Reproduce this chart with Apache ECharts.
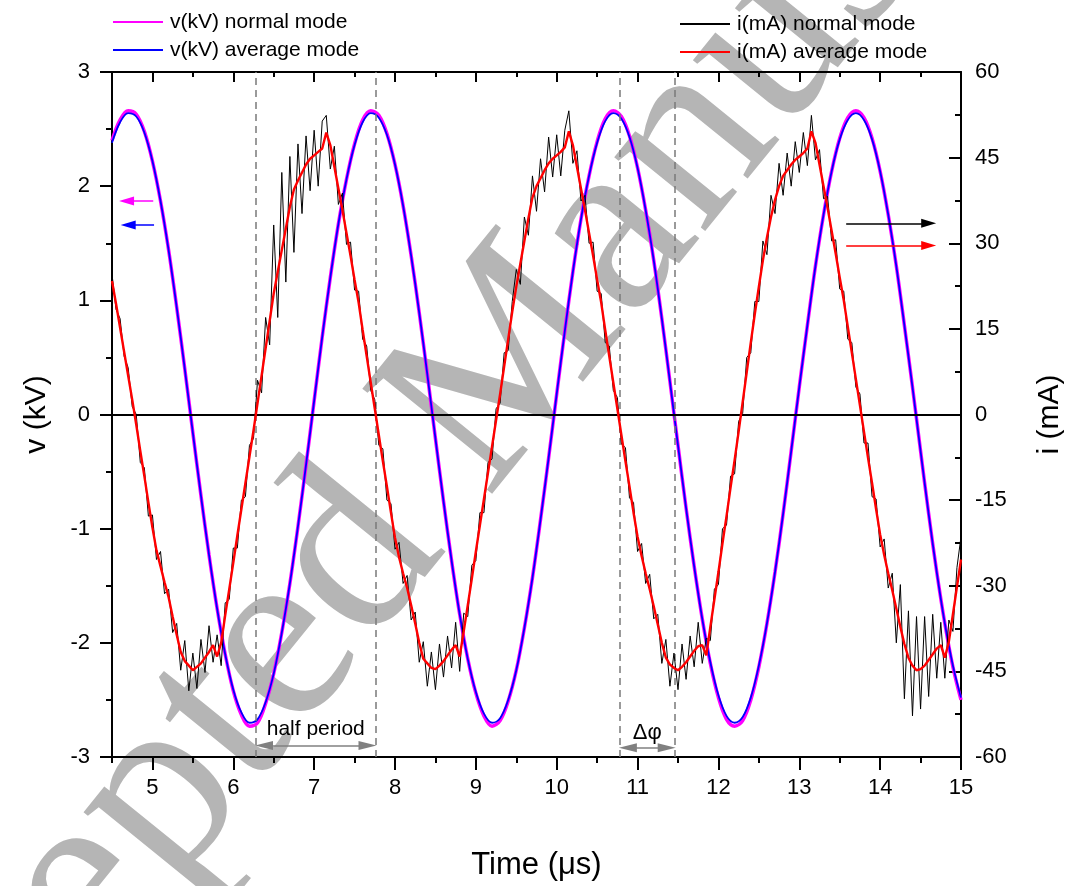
<!DOCTYPE html>
<html><head><meta charset="utf-8">
<script src="https://cdn.jsdelivr.net/npm/echarts@6.0.0/dist/echarts.min.js"></script>
<style>html,body{margin:0;padding:0;background:#fff}#c{width:1073px;height:886px}</style>
</head><body><div id="c"></div><script>
// ---- sampling grids (start time in µs, sample step in µs) ----
const T_START = 4.5;
const V_STEP = 0.1;
const I_STEP = 0.05;

// ---- voltage (kV), one value per V_STEP ----
const vNormal = [
 2.40, 2.58, 2.66, 2.63, 2.48, 2.22, 1.87, 1.44, 0.94, 0.40,
 -0.16, -0.71, -1.23, -1.70, -2.10, -2.42, -2.63, -2.73, -2.70, -2.53,
 -2.27, -1.91, -1.48, -0.98, -0.44, 0.12, 0.68, 1.20, 1.67, 2.06,
 2.37, 2.58, 2.66, 2.62, 2.46, 2.19, 1.83, 1.39, 0.89, 0.35,
 -0.21, -0.76, -1.28, -1.75, -2.14, -2.44, -2.64, -2.73, -2.68, -2.51,
 -2.24, -1.87, -1.43, -0.92, -0.38, 0.18, 0.73, 1.25, 1.71, 2.09,
 2.39, 2.59, 2.66, 2.61, 2.44, 2.16, 1.79, 1.35, 0.84, 0.29,
 -0.27, -0.82, -1.33, -1.79, -2.18, -2.48, -2.67, -2.73, -2.68, -2.50,
 -2.21, -1.83, -1.38, -0.87, -0.32, 0.24, 0.78, 1.30, 1.75, 2.13,
 2.42, 2.60, 2.66, 2.60, 2.42, 2.13, 1.75, 1.30, 0.78, 0.24,
 -0.32, -0.87, -1.38, -1.83, -2.21, -2.50
];
const vAvg = [
 2.38, 2.56, 2.64, 2.61, 2.47, 2.22, 1.87, 1.44, 0.94, 0.40,
 -0.16, -0.71, -1.23, -1.70, -2.10, -2.41, -2.61, -2.70, -2.67, -2.52,
 -2.27, -1.91, -1.48, -0.98, -0.44, 0.12, 0.68, 1.20, 1.67, 2.06,
 2.36, 2.56, 2.64, 2.60, 2.45, 2.19, 1.83, 1.39, 0.89, 0.35,
 -0.21, -0.76, -1.28, -1.75, -2.14, -2.43, -2.62, -2.70, -2.66, -2.50,
 -2.24, -1.87, -1.43, -0.92, -0.38, 0.18, 0.73, 1.25, 1.71, 2.09,
 2.38, 2.57, 2.64, 2.59, 2.43, 2.16, 1.79, 1.35, 0.84, 0.29,
 -0.27, -0.82, -1.33, -1.79, -2.17, -2.46, -2.64, -2.70, -2.65, -2.48,
 -2.20, -1.83, -1.38, -0.87, -0.32, 0.24, 0.78, 1.30, 1.75, 2.13,
 2.41, 2.58, 2.64, 2.58, 2.41, 2.13, 1.75, 1.30, 0.78, 0.24,
 -0.32, -0.87, -1.38, -1.83, -2.20, -2.48
];

// ---- current (mA), one value per I_STEP ----
const iNormal = [
 24.6, 18.4, 16.8, 10.2, 8.2, 1.4, 0.0, -8.4, -9.3, -17.8,
 -17.6, -25.4, -24.0, -31.4, -30.6, -38.2, -36.6, -44.8, -39.6, -48.4,
 -41.8, -48.0, -39.4, -45.2, -37.0, -43.4, -38.6, -44.0, -33.0, -32.4,
 -23.4, -23.4, -15.0, -14.4, -5.4, -4.2, 6.0, 3.8, 17.0, 12.2,
 33.2, 17.0, 42.4, 23.2, 45.2, 28.4, 47.4, 35.2, 48.8, 39.2,
 49.8, 40.0, 51.4, 52.4, 43.0, 47.0, 36.8, 38.8, 29.8, 30.2,
 21.8, 21.6, 13.2, 12.0, 4.2, 2.6, -5.4, -6.0, -15.0, -15.6,
 -23.6, -22.4, -29.6, -28.2, -36.0, -34.6, -43.4, -39.8, -47.6, -41.6,
 -48.2, -40.2, -46.0, -38.8, -44.4, -36.4, -45.0, -34.8, -35.4, -26.4,
 -25.6, -17.2, -17.2, -8.4, -7.8, 1.0, 2.0, 10.8, 11.2, 19.8,
 25.4, 22.8, 34.6, 31.4, 41.8, 35.6, 44.8, 39.0, 48.6, 41.6,
 49.0, 41.8, 49.8, 53.2, 44.0, 46.2, 37.4, 38.4, 30.0, 30.2,
 21.6, 21.2, 12.6, 12.0, 4.2, 3.0, -5.2, -5.8, -14.6, -15.4,
 -24.0, -22.6, -29.6, -28.0, -35.8, -35.0, -43.6, -39.4, -47.6, -41.8,
 -48.2, -40.2, -46.4, -38.8, -44.2, -36.4, -43.6, -39.2, -39.6, -30.6,
 -29.8, -20.0, -19.4, -10.8, -10.4, -1.2, 0.2, 10.0, 10.8, 19.8,
 19.8, 30.4, 28.0, 38.4, 35.2, 44.0, 38.4, 45.8, 40.0, 47.8,
 42.4, 49.4, 43.6, 52.4, 44.6, 46.4, 37.8, 38.2, 30.4, 30.6,
 22.0, 21.6, 13.2, 12.6, 4.8, 3.6, -5.0, -5.0, -14.4, -14.8,
 -23.2, -21.8, -30.4, -27.8, -40.0, -29.8, -49.8, -34.4, -52.8, -35.4,
 -51.6, -35.4, -49.4, -35.0, -46.2, -36.4, -46.2, -36.0, -38.0, -26.8,
 -21.4
];
const iAvg = [
 23.4, 19.4, 15.2, 11.0, 6.8, 2.6, -1.8, -6.4, -10.8, -15.4,
 -19.8, -23.8, -26.6, -29.4, -32.0, -35.4, -38.6, -41.6, -43.2, -44.0,
 -44.8, -44.2, -43.6, -42.6, -41.6, -40.4, -42.4, -40.0, -35.2, -30.6,
 -26.0, -21.2, -16.6, -12.0, -7.4, -2.8, 2.0, 6.8, 11.6, 16.4,
 21.2, 25.0, 28.8, 32.6, 36.4, 39.4, 41.0, 42.4, 43.8, 44.8,
 45.4, 46.0, 46.6, 49.4, 47.2, 43.4, 39.6, 35.8, 31.8, 27.8,
 23.6, 19.6, 14.8, 10.2, 5.6, 1.0, -3.6, -8.2, -12.6, -17.2,
 -21.6, -25.0, -27.8, -30.4, -33.4, -36.6, -40.0, -42.8, -43.6, -44.4,
 -44.6, -44.0, -43.2, -42.2, -41.2, -40.4, -42.4, -38.0, -33.4, -28.8,
 -24.0, -19.4, -14.8, -10.2, -5.6, -1.0, 3.6, 8.4, 13.2, 18.0,
 22.4, 26.4, 30.4, 34.4, 38.0, 40.0, 41.4, 42.8, 44.0, 44.8,
 45.4, 46.0, 46.8, 49.6, 47.2, 43.4, 39.6, 35.8, 31.8, 27.8,
 23.6, 19.6, 14.8, 10.2, 5.6, 1.0, -3.6, -8.2, -12.6, -17.2,
 -21.4, -24.8, -27.8, -30.6, -33.6, -36.8, -40.0, -42.6, -43.8, -44.4,
 -44.8, -44.2, -43.4, -42.4, -41.4, -40.6, -40.4, -42.2, -37.2, -32.4,
 -27.6, -22.6, -17.8, -12.8, -8.0, -3.0, 2.2, 7.4, 12.6, 17.6,
 22.4, 27.0, 31.0, 34.6, 37.6, 40.0, 41.8, 42.8, 43.8, 44.6,
 45.2, 45.8, 46.6, 49.6, 47.6, 43.8, 40.0, 36.2, 32.2, 28.2,
 24.0, 20.0, 15.4, 10.8, 6.2, 1.6, -3.0, -7.6, -12.0, -16.6,
 -21.0, -24.6, -27.8, -30.8, -34.0, -37.2, -40.2, -42.6, -44.0, -44.8,
 -44.6, -44.0, -43.0, -42.0, -41.0, -40.4, -42.6, -39.8, -35.0, -30.2,
 -25.4
];

// ---- axes ----
const xRange = [4.5, 15];
const xMajorTicks = [5, 6, 7, 8, 9, 10, 11, 12, 13, 14, 15];
const vRange = [-3, 3];
const iRange = [-60, 60];

// ---- annotations (data units) ----
const guideTimes = [6.28, 7.76, 10.78, 11.46];
const halfPeriodSpan = [6.38, 7.66];
const halfPeriodLevel = -2.90;
const deltaPhiSpan = [10.88, 11.36];
const deltaPhiLevel = -2.92;
const vNormalArrow = [5.01, 4.68, 1.87];   // from t, to t, level kV
const vAvgArrow = [5.02, 4.70, 1.66];
const iNormalArrow = [13.58, 14.60, 33.5]; // from t, to t, level mA
const iAvgArrow = [13.58, 14.60, 29.6];

const FONT = '"Liberation Sans", Arial, sans-serif';

function pairs(start, step, arr) {
  return arr.map((v, k) => [Math.round((start + k * step) * 1000) / 1000, v]);
}
function arrowLine(a, color) {
  return {
    silent: true, symbol: ['none', 'triangle'], symbolSize: [9, 15],
    label: { show: false },
    lineStyle: { color: color, width: 1.5, type: 'solid' },
    emphasis: { disabled: true },
    data: [[{ coord: [a[0], a[2]] }, { coord: [a[1], a[2]] }]]
  };
}

const chart = echarts.init(document.getElementById('c'), null, { renderer: 'canvas' });
const axisLineStyle = { color: '#000', width: 2 };
const legendCommon = {
  orient: 'vertical', itemWidth: 50, itemHeight: 2, itemGap: 6, icon: 'rect',
  textStyle: { fontSize: 21, color: '#000', fontFamily: FONT, lineHeight: 22, padding: [0, 0, 0, 2] }
};

const option = {
  animation: false,
  backgroundColor: '#fff',
  textStyle: { fontFamily: FONT, color: '#000' },
  grid: { left: 112, right: 110, top: 72, bottom: 129, containLabel: false },
  graphic: [{
    type: 'text', x: 478, y: 405, rotation: 0.89, z: -10, silent: true,
    style: {
      text: 'Accepted Manuscript', fontSize: 255, fontFamily: '"Liberation Serif", "Times New Roman", serif',
      fill: '#b5b5b5', textAlign: 'center', textVerticalAlign: 'middle'
    }
  }],
  legend: [
    Object.assign({ data: ['v(kV) normal mode', 'v(kV) average mode'], left: 108, top: 6 }, legendCommon),
    Object.assign({ data: ['i(mA) normal mode', 'i(mA) average mode'], left: 675, top: 8 }, legendCommon)
  ],
  xAxis: [
    {
      type: 'value', min: xRange[0], max: xRange[1], interval: 0.5, position: 'bottom',
      axisLine: { show: true, onZero: false, lineStyle: axisLineStyle },
      axisTick: { show: true, inside: false, length: 6, lineStyle: axisLineStyle },
      axisLabel: {
        fontSize: 22, color: '#000', margin: 20, fontFamily: FONT,
        formatter: v => (Math.abs(v - Math.round(v)) < 1e-6 ? String(Math.round(v)) : '')
      },
      splitLine: { show: false },
      name: 'Time (\u03bcs)', nameLocation: 'middle', nameGap: 93,
      nameTextStyle: { fontSize: 31, color: '#000', fontFamily: FONT }
    },
    {
      type: 'value', min: xRange[0], max: xRange[1], position: 'bottom',
      axisLine: { show: false, onZero: false },
      axisTick: { show: true, inside: false, length: 13, customValues: xMajorTicks, lineStyle: axisLineStyle },
      axisLabel: { show: false }, splitLine: { show: false }
    },
    {
      type: 'value', min: xRange[0], max: xRange[1], interval: 0.5, position: 'top',
      axisLine: { show: true, onZero: false, lineStyle: axisLineStyle },
      axisTick: { show: true, inside: true, length: 5, lineStyle: axisLineStyle },
      axisLabel: { show: false }, splitLine: { show: false }
    },
    {
      type: 'value', min: xRange[0], max: xRange[1], position: 'top',
      axisLine: { show: false, onZero: false },
      axisTick: { show: true, inside: true, length: 10, customValues: xMajorTicks, lineStyle: axisLineStyle },
      axisLabel: { show: false }, splitLine: { show: false }
    }
  ],
  yAxis: [
    {
      type: 'value', min: vRange[0], max: vRange[1], interval: 1, position: 'left',
      axisLine: { show: true, onZero: false, lineStyle: axisLineStyle },
      axisTick: { show: true, inside: false, length: 12, lineStyle: axisLineStyle },
      minorTick: { show: true, splitNumber: 2, length: 6, lineStyle: axisLineStyle },
      axisLabel: { fontSize: 22, color: '#000', margin: 22, fontFamily: FONT },
      splitLine: { show: false },
      name: 'v (kV)', nameLocation: 'middle', nameGap: 60, nameRotate: 90,
      nameTextStyle: { fontSize: 30, color: '#000', fontFamily: FONT }
    },
    {
      type: 'value', min: iRange[0], max: iRange[1], interval: 15, position: 'right',
      axisLine: { show: true, onZero: false, lineStyle: axisLineStyle },
      axisTick: { show: true, inside: true, length: 12, lineStyle: axisLineStyle },
      minorTick: { show: true, splitNumber: 2, length: 6, lineStyle: axisLineStyle },
      axisLabel: { fontSize: 22, color: '#000', margin: 14, fontFamily: FONT },
      splitLine: { show: false },
      name: 'i (mA)', nameLocation: 'middle', nameGap: 74, nameRotate: 90,
      nameTextStyle: { fontSize: 30, color: '#000', fontFamily: FONT }
    }
  ],
  series: [
    {
      name: 'guides', type: 'line', data: [], xAxisIndex: 0, yAxisIndex: 0, z: 1,
      markLine: {
        silent: true, symbol: 'none', label: { show: false }, emphasis: { disabled: true },
        lineStyle: { color: '#7a7a7a', width: 1.5, type: [7, 5] },
        data: guideTimes.map(t => ({ xAxis: t }))
      }
    },
    {
      name: 'v(kV) normal mode', type: 'line', data: pairs(T_START, V_STEP, vNormal),
      xAxisIndex: 0, yAxisIndex: 0, symbol: 'none', smooth: 0.35, z: 3,
      lineStyle: { color: '#ff00ff', width: 3.5 }, itemStyle: { color: '#ff00ff' },
      markLine: arrowLine(vNormalArrow, '#ff00ff')
    },
    {
      name: 'v(kV) average mode', type: 'line', data: pairs(T_START, V_STEP, vAvg),
      xAxisIndex: 0, yAxisIndex: 0, symbol: 'none', smooth: 0.35, z: 4,
      lineStyle: { color: '#0000ff', width: 1.8 }, itemStyle: { color: '#0000ff' },
      markLine: arrowLine(vAvgArrow, '#0000ff')
    },
    {
      name: 'i(mA) normal mode', type: 'line', data: pairs(T_START, I_STEP, iNormal),
      xAxisIndex: 0, yAxisIndex: 1, symbol: 'none', z: 5,
      lineStyle: { color: '#000000', width: 1 }, itemStyle: { color: '#000000' },
      markLine: arrowLine(iNormalArrow, '#000000')
    },
    {
      name: 'i(mA) average mode', type: 'line', data: pairs(T_START, I_STEP, iAvg),
      xAxisIndex: 0, yAxisIndex: 1, symbol: 'none', z: 6,
      lineStyle: { color: '#ff0000', width: 2.4 }, itemStyle: { color: '#ff0000' },
      markLine: arrowLine(iAvgArrow, '#ff0000')
    },
    {
      name: 'zero', type: 'line', data: [], xAxisIndex: 0, yAxisIndex: 0, z: 7,
      markLine: {
        silent: true, symbol: 'none', label: { show: false }, emphasis: { disabled: true },
        lineStyle: { color: '#000', width: 2, type: 'solid' },
        data: [{ yAxis: 0 }]
      }
    },
    {
      name: 'half period', type: 'line', data: [], xAxisIndex: 0, yAxisIndex: 0, z: 7,
      markLine: {
        silent: true, symbol: ['triangle', 'triangle'], symbolSize: [9, 18],
        emphasis: { disabled: true },
        lineStyle: { color: '#808080', width: 1.5, type: 'solid' },
        label: { show: true, formatter: 'half period', position: 'insideMiddleTop', distance: 6,
                 fontSize: 21, color: '#000', fontFamily: FONT },
        data: [[{ coord: [halfPeriodSpan[0], halfPeriodLevel] }, { coord: [halfPeriodSpan[1], halfPeriodLevel] }]]
      }
    },
    {
      name: 'delta phi', type: 'line', data: [], xAxisIndex: 0, yAxisIndex: 0, z: 7,
      markLine: {
        silent: true, symbol: ['triangle', 'triangle'], symbolSize: [9, 18],
        emphasis: { disabled: true },
        lineStyle: { color: '#808080', width: 1.5, type: 'solid' },
        label: { show: true, formatter: '\u0394\u03c6', position: 'insideMiddleTop', distance: 4,
                 fontSize: 22, color: '#000', fontFamily: FONT },
        data: [[{ coord: [deltaPhiSpan[0], deltaPhiLevel] }, { coord: [deltaPhiSpan[1], deltaPhiLevel] }]]
      }
    }
  ]
};
chart.setOption(option);
</script></body></html>
